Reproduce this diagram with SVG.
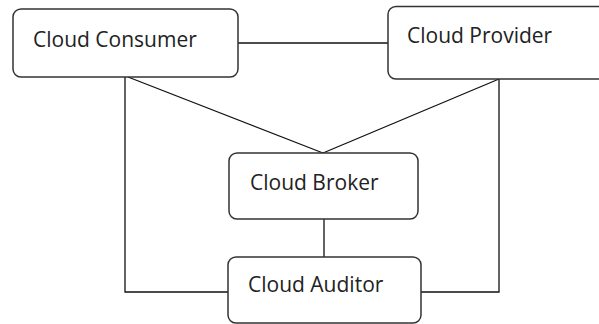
<svg xmlns="http://www.w3.org/2000/svg" width="599" height="324" viewBox="0 0 599 324">
<style>
.box{fill:#fff;stroke:#333;stroke-width:1.5}
.lbl{font-family:"Open Sans","Liberation Sans",sans-serif;font-size:21px;fill:#222}
.con{stroke:#111;stroke-width:1.3;fill:none}
</style>
<rect width="599" height="324" fill="#fff"/>
<g id="connectors">
<line class="con" x1="238" y1="43" x2="388" y2="43"/>
<polyline class="con" points="125,77 125,292 228,292"/>
<polyline class="con" points="499,79 499,292 421,292"/>
<line class="con" x1="128" y1="77" x2="323" y2="153"/>
<line class="con" x1="499" y1="79" x2="323" y2="153"/>
<line class="con" x1="324" y1="219" x2="324" y2="257"/>
</g>
<g id="consumer">
<rect class="box" x="13" y="9" width="225" height="68" rx="8"/>
<text class="lbl" x="33" y="47">Cloud Consumer</text>
</g>
<g id="provider">
<rect class="box" x="388" y="6.5" width="220" height="72.5" rx="8"/>
<text class="lbl" x="407" y="43">Cloud Provider</text>
</g>
<g id="broker">
<rect class="box" x="229" y="153" width="189" height="66" rx="8"/>
<text class="lbl" x="250" y="190">Cloud Broker</text>
</g>
<g id="auditor">
<rect class="box" x="228" y="257" width="193" height="66" rx="8"/>
<text class="lbl" x="248" y="292">Cloud Auditor</text>
</g>
</svg>
